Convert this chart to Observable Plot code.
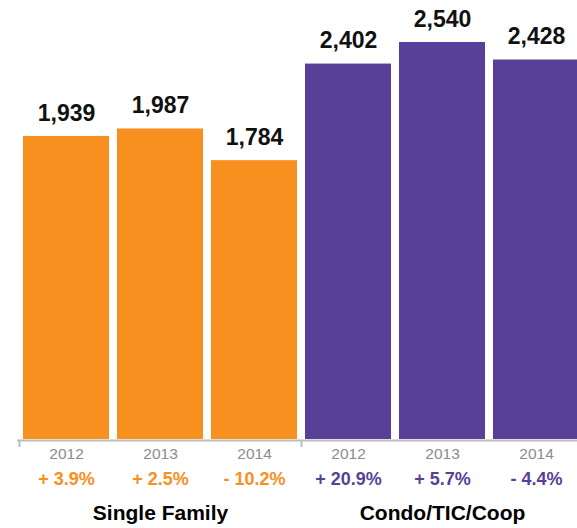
<!DOCTYPE html>
<html>
<head>
<meta charset="utf-8">
<script src="https://cdn.jsdelivr.net/npm/d3@7"></script>
<script src="https://cdn.jsdelivr.net/npm/@observablehq/plot@0.6"></script>
<style>
  html, body { margin: 0; padding: 0; background: #fff; }
</style>
</head>
<body>
<div id="chart"></div>
<script>
const years = ["2012", "2013", "2014"];
const groups = ["Single Family", "Condo/TIC/Coop"];
const singleFamily = [1939, 1987, 1784];
const condo = [2402, 2540, 2428];
const singleFamilyChange = [3.9, 2.5, -10.2];
const condoChange = [20.9, 5.7, -4.4];
const colors = ["#F7901E", "#5A3F98"];

const seriesValues = [singleFamily, condo];
const seriesChanges = [singleFamilyChange, condoChange];

const rows = [];
groups.forEach((g, gi) => {
  years.forEach((yr, yi) => {
    rows.push({
      key: g + "|" + yr,
      group: g,
      year: yr,
      value: seriesValues[gi][yi],
      change: seriesChanges[gi][yi]
    });
  });
});
const keys = rows.map(d => d.key);
const groupFirst = groups.map(g => g + "|" + years[0]);
const groupMid = groups.map(g => ({key: g + "|" + years[1], label: g}));

const fmtPct = d => (d >= 0 ? "+ " : "- ") + Math.abs(d).toFixed(1) + "%";
const fmtNum = d3.format(",");

const chart = Plot.plot({
  width: 577,
  height: 528,
  marginLeft: 17,
  marginRight: -7,
  marginTop: 42,
  marginBottom: 89,
  style: {fontFamily: "'Liberation Sans', Arial, Helvetica, sans-serif", background: "#fff"},
  x: {domain: keys, paddingInner: 0.087, paddingOuter: 0.053, align: 0.5, axis: null},
  y: {domain: [0, d3.max(rows, d => d.value)], axis: null},
  color: {domain: groups, range: colors},
  marks: [
    Plot.barY(rows, {x: "key", y: "value", fill: "group"}),
    Plot.ruleY([0], {stroke: "#bdbdbd", strokeWidth: 2, dy: 1}),
    Plot.ruleX(groupFirst, {x: d => d, y1: 0, y2: 0, insetTop: 1, insetBottom: -8, stroke: "#bdbdbd", strokeWidth: 2, dx: -47}),
    Plot.text(rows, {x: "key", y: "value", text: d => fmtNum(d.value), dy: -23, fontSize: 23, fontWeight: "bold", fill: "#111"}),
    Plot.text(rows, {x: "key", y: 0, text: "year", dy: 15, fontSize: 15.5, fill: "#8c8c8c"}),
    Plot.text(rows, {x: "key", y: 0, text: d => fmtPct(d.change), dy: 40, fontSize: 18, fontWeight: "bold", fill: "group"}),
    Plot.text(groupMid, {x: "key", y: 0, text: "label", dy: 74, fontSize: 21, fontWeight: "bold", fill: "#000"})
  ]
});
document.getElementById("chart").appendChild(chart);
</script>
</body>
</html>
